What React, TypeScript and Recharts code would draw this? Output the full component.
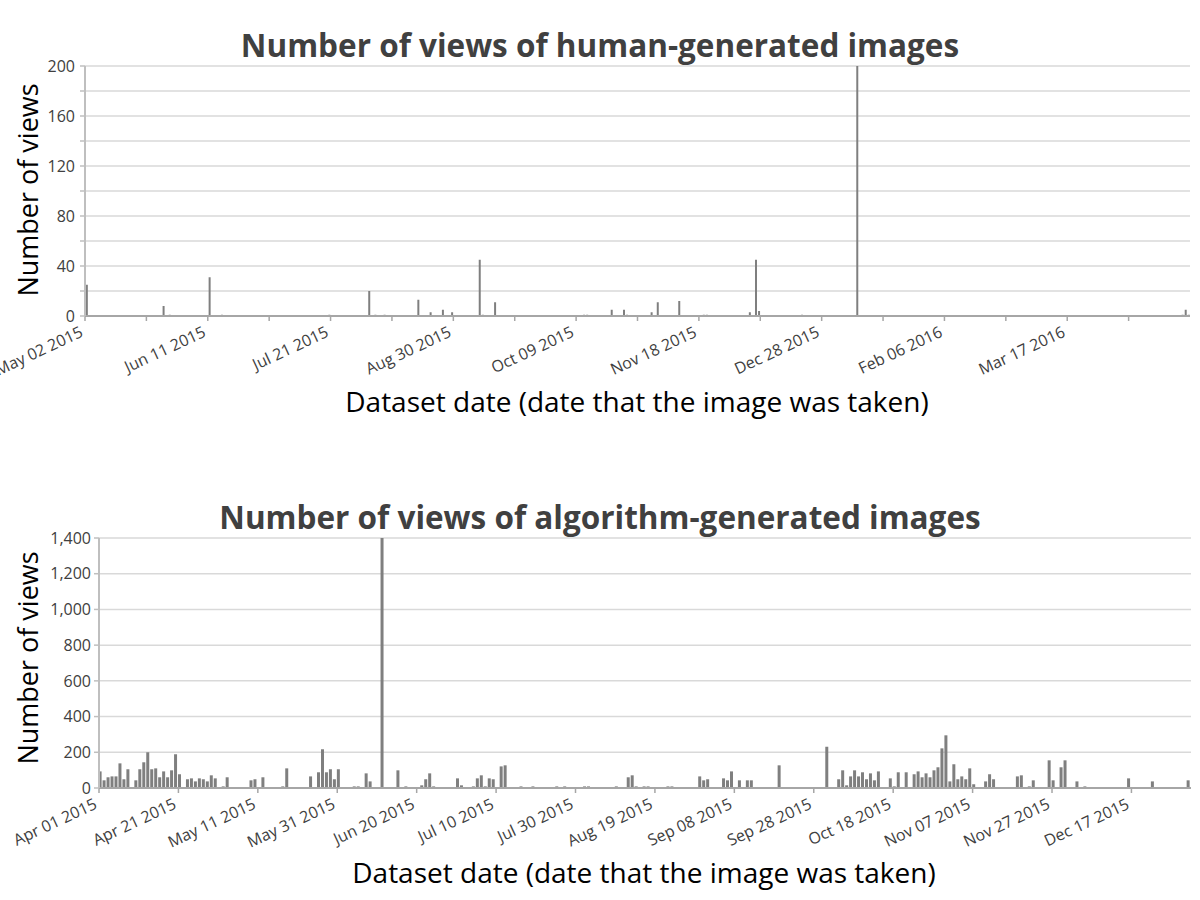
import React from 'react';
import { BarChart, Bar, XAxis, YAxis, CartesianGrid } from 'recharts';

const FONT = '"Open Sans", "Noto Sans", sans-serif';

// ---------- Human-generated images ----------
const humanTitle = 'Number of views of human-generated images';
const humanTickLabels = ['May 02 2015', 'Jun 11 2015', 'Jul 21 2015', 'Aug 30 2015', 'Oct 09 2015', 'Nov 18 2015', 'Dec 28 2015', 'Feb 06 2016', 'Mar 17 2016'];
const humanLabelDays = [0, 40, 80, 120, 160, 200, 240, 280, 320];
const humanTickDays = [0, 20, 40, 60, 80, 100, 120, 140, 160, 180, 200, 220, 240, 260, 280, 300, 320, 340];
const humanYTicks = [0, 20, 40, 60, 80, 100, 120, 140, 160, 180, 200];
// day offset from May 02 2015
const humanDays = [0, 25, 27, 40, 44, 79, 92, 94, 97, 108, 112, 116, 119, 128, 129, 133, 162, 163, 171, 175, 176, 184, 186, 193, 201, 202, 216, 218, 219, 233, 251, 357, 358, 359];
const humanViews = [25, 8, 1, 31, 1, 1, 20, 1, 1, 13, 3, 5, 3, 45, 1, 11, 1, 1, 5, 5, 1, 3, 11, 12, 1, 1, 3, 45, 4, 1, 200, 1, 5, 1];

// ---------- Algorithm-generated images ----------
const algoTitle = 'Number of views of algorithm-generated images';
const algoTickLabels = ['Apr 01 2015', 'Apr 21 2015', 'May 11 2015', 'May 31 2015', 'Jun 20 2015', 'Jul 10 2015', 'Jul 30 2015', 'Aug 19 2015', 'Sep 08 2015', 'Sep 28 2015', 'Oct 18 2015', 'Nov 07 2015', 'Nov 27 2015', 'Dec 17 2015'];
const algoLabelDays = [0, 20, 40, 60, 80, 100, 120, 140, 160, 180, 200, 220, 240, 260];
const algoYTicks = [0, 200, 400, 600, 800, 1000, 1200, 1400];
// day offset from Apr 01 2015
const algoDays = [
  0, 1, 2, 3, 4, 5, 6, 7, 9, 10,
  11, 12, 13, 14, 15, 16, 17, 18, 19, 20,
  22, 23, 24, 25, 26, 27, 28, 29, 30, 31,
  32, 33, 34, 36, 37, 38, 39, 41, 43, 44,
  45, 46, 47, 49, 51, 52, 53, 54, 55, 56,
  57, 58, 59, 60, 61, 62, 63, 64, 65, 66,
  67, 68, 69, 71, 73, 75, 77, 78, 81, 82,
  83, 84, 85, 86, 88, 89, 90, 91, 94, 95,
  96, 97, 98, 99, 100, 101, 102, 103, 104, 105,
  106, 107, 108, 109, 110, 111, 112, 113, 114, 115,
  116, 117, 119, 120, 121, 122, 123, 124, 126, 127,
  128, 129, 130, 132, 133, 134, 135, 136, 137, 138,
  140, 141, 142, 143, 144, 145, 146, 147, 148, 149,
  150, 151, 152, 153, 157, 158, 159, 161, 163, 164,
  171, 178, 183, 186, 187, 188, 189, 190, 191, 192,
  193, 194, 195, 196, 199, 200, 201, 203, 205, 206,
  207, 208, 209, 210, 211, 212, 213, 214, 215, 216,
  217, 218, 219, 220, 223, 224, 225, 231, 232, 234,
  235, 239, 240, 242, 243, 246, 248, 259, 265, 274,
];
const algoViews = [
  93, 43, 60, 65, 65, 138, 49, 105, 43, 105,
  144, 200, 105, 110, 60, 93, 60, 99, 189, 77,
  49, 54, 37, 54, 49, 37, 71, 54, 5, 9,
  60, 5, 5, 5, 5, 43, 49, 60, 5, 5,
  5, 9, 110, 5, 5, 5, 65, 5, 88, 217,
  88, 105, 49, 105, 5, 5, 5, 9, 9, 5,
  82, 37, 5, 1400, 5, 99, 9, 5, 15, 49,
  82, 9, 5, 5, 5, 5, 54, 15, 9, 54,
  71, 9, 54, 49, 5, 121, 127, 5, 5, 5,
  9, 5, 5, 9, 5, 5, 5, 5, 5, 9,
  5, 9, 5, 5, 5, 9, 9, 5, 5, 5,
  5, 5, 9, 5, 60, 71, 9, 5, 9, 9,
  5, 5, 5, 9, 9, 5, 5, 5, 5, 5,
  5, 65, 43, 49, 54, 43, 93, 43, 43, 43,
  127, 1, 231, 49, 99, 15, 65, 99, 65, 88,
  49, 82, 43, 93, 54, 9, 88, 88, 77, 93,
  60, 82, 60, 99, 116, 222, 295, 37, 133, 49,
  65, 49, 110, 21, 37, 77, 49, 65, 71, 9,
  43, 155, 43, 116, 155, 37, 9, 54, 37, 43,
];

const xAxisTitle = 'Dataset date (date that the image was taken)';
const yAxisTitle = 'Number of views';

// ---------- derived tables ----------
const humanData = humanDays.map((d, i) => ({ x: d + 0.45, v: humanViews[i] }));
const algoData = algoDays.map((d, i) => ({ x: d + 0.4, v: algoViews[i] }));
const humanLabelMap: Record<number, string> = {};
humanLabelDays.forEach((d, i) => { humanLabelMap[d] = humanTickLabels[i]; });
const algoLabelMap: Record<number, string> = {};
algoLabelDays.forEach((d, i) => { algoLabelMap[d] = algoTickLabels[i]; });
const algoTickDays = algoLabelDays;

const AXIS = '#a6a6a6';
const GRID = '#d9d9d9';
const BAR = '#7f7f7f';
const TICKTXT = '#404040';

function DateTick(props: any) {
  const { x, y, payload, labelMap } = props;
  const label = labelMap[payload.value];
  if (!label) return <g />;
  const ax = x - 1;
  const ay = y + 13;
  return (
    <text x={ax} y={ay} textAnchor="end" transform={`rotate(-25, ${ax}, ${ay})`} fontSize={16} fill={TICKTXT} fontFamily={FONT}>
      {label}
    </text>
  );
}

function Txt(props: { x: number; y: number; size: number; bold?: boolean; rotate?: number; color?: string; children: React.ReactNode }) {
  const { x, y, size, bold, rotate, color, children } = props;
  return (
    <div
      style={{
        position: 'absolute',
        left: x,
        top: y,
        transform: `translate(-50%, -50%)${rotate ? ` rotate(${rotate}deg)` : ''}`,
        fontSize: size,
        fontWeight: bold ? 700 : 400,
        color: color || '#000',
        whiteSpace: 'nowrap',
        lineHeight: 1,
        fontFamily: FONT,
      }}
    >
      {children}
    </div>
  );
}

export default function App() {
  return (
    <div style={{ position: 'absolute', left: 0, top: 0, width: 1200, height: 900, background: '#fff', overflow: 'hidden' }}>
      <div style={{ position: 'absolute', left: 0, top: 0 }}>
        <BarChart width={1200} height={450} data={humanData} margin={{ top: 66, right: 10, bottom: 74, left: 0 }}>
          <CartesianGrid vertical={false} stroke={GRID} strokeWidth={1.5} />
          <XAxis
            dataKey="x"
            type="number"
            domain={[0, 360]}
            ticks={humanTickDays}
            interval={0}
            height={60}
            tickSize={5}
            tickLine={{ stroke: AXIS, strokeWidth: 1.5 }}
            axisLine={{ stroke: AXIS, strokeWidth: 2 }}
            tick={(p: any) => <DateTick {...p} labelMap={humanLabelMap} />}
            allowDataOverflow
          />
          <YAxis
            type="number"
            domain={[0, 200]}
            ticks={humanYTicks}
            interval={0}
            width={85}
            tickSize={5}
            tickMargin={5}
            tickFormatter={(v: number) => (v % 40 === 0 ? String(v) : '')}
            tick={{ fontSize: 16, fill: TICKTXT, fontFamily: FONT }}
            axisLine={{ stroke: '#bfbfbf', strokeWidth: 2 }}
            tickLine={{ stroke: '#bfbfbf', strokeWidth: 1.5 }}
            allowDataOverflow
          />
          <Bar dataKey="v" fill={BAR} barSize={2} isAnimationActive={false} />
        </BarChart>
      </div>
      <div style={{ position: 'absolute', left: 0, top: 470 }}>
        <BarChart width={1200} height={430} data={algoData} margin={{ top: 68, right: 9, bottom: 52, left: 0 }}>
          <CartesianGrid vertical={false} stroke={GRID} strokeWidth={1.5} />
          <XAxis
            dataKey="x"
            type="number"
            domain={[0, 275]}
            ticks={algoTickDays}
            interval={0}
            height={60}
            tickSize={5}
            tickLine={{ stroke: AXIS, strokeWidth: 1.5 }}
            axisLine={{ stroke: AXIS, strokeWidth: 2 }}
            tick={(p: any) => <DateTick {...p} labelMap={algoLabelMap} />}
            allowDataOverflow
          />
          <YAxis
            type="number"
            domain={[0, 1400]}
            ticks={algoYTicks}
            interval={0}
            width={99}
            tickSize={5}
            tickMargin={3}
            tickFormatter={(v: number) => v.toLocaleString('en-US')}
            tick={{ fontSize: 16, fill: TICKTXT, fontFamily: FONT }}
            axisLine={{ stroke: '#bfbfbf', strokeWidth: 2 }}
            tickLine={{ stroke: '#bfbfbf', strokeWidth: 1.5 }}
            allowDataOverflow
          />
          <Bar dataKey="v" fill={BAR} barSize={3} isAnimationActive={false} />
        </BarChart>
      </div>

      <Txt x={600} y={45} size={31.5} bold color="#404040">{humanTitle}</Txt>
      <Txt x={27} y={190} size={27} rotate={-90}>{yAxisTitle}</Txt>
      <Txt x={637} y={401} size={28}>{xAxisTitle}</Txt>

      <Txt x={600} y={517} size={31.5} bold color="#404040">{algoTitle}</Txt>
      <Txt x={27} y={658} size={27} rotate={-90}>{yAxisTitle}</Txt>
      <Txt x={644} y={872} size={28}>{xAxisTitle}</Txt>
    </div>
  );
}
